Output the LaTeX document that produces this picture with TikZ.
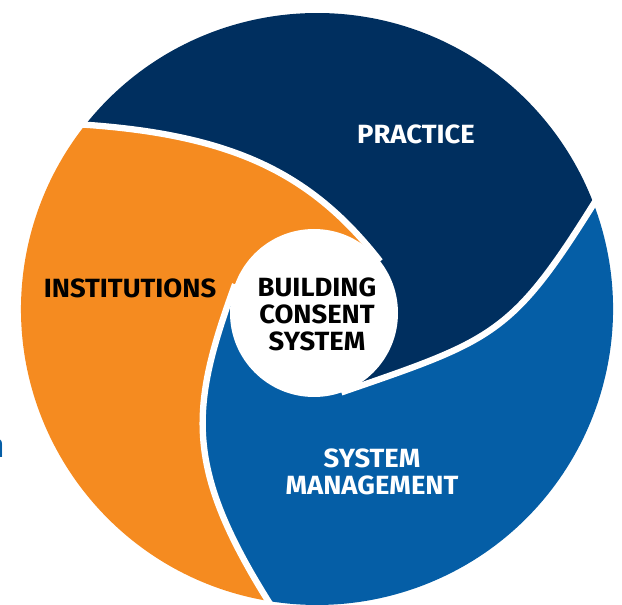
\documentclass[tikz,border=0pt]{standalone}
\usepackage{fontspec}
\setmainfont{Fira Sans}[FakeStretch=1.04]
\usetikzlibrary{calc}
\definecolor{navy}{HTML}{002F5F}
\definecolor{mbieblue}{HTML}{055EA6}
\definecolor{amber}{HTML}{F58B20}

\begin{document}
\begin{tikzpicture}
    [ x=0.02cm, y=0.02cm
    , every node/.style={font=\bfseries\fontsize{15}{15.3}\selectfont, align=center}
    , gap/.style={draw=white, line width=3.6pt}
    , light/.style={text=white}
    ]
    \useasboundingbox (0,0) rectangle (622,605);
    \coordinate (hub)  at (317,296);
    \coordinate (core) at (314,292);
    % ends of the three dividers, on the rim and on the core
    \coordinate (d1o) at ($(hub)+(141.5:296)$);
    \coordinate (d2o) at ($(hub)+(260.5:296)$);
    \coordinate (d3o) at ($(hub)+(20.8:296)$);
    \coordinate (d1i) at ($(core)+(38:84)$);
    \coordinate (d2i) at ($(core)+(160:84)$);
    \coordinate (d3i) at ($(core)+(-71:84)$);

    \fill [navy] (d1o) arc [start angle=141.5, end angle=20.8, radius=296]
      .. controls +(238:155) and +(19:160) .. (d3i) -- (d1i)
      .. controls +(128:110) and +(-4:150) .. (d1o) -- cycle;
    \fill [amber] (d2o) arc [start angle=260.5, end angle=141.5, radius=296]
      .. controls +(-4:150) and +(128:110) .. (d1i) -- (d2i)
      .. controls +(250:130) and +(122:160) .. (d2o) -- cycle;
    \fill [mbieblue] (d3o) arc [start angle=20.8, end angle=-99.5, radius=296]
      .. controls +(122:160) and +(250:130) .. (d2i) -- (d3i)
      .. controls +(19:160) and +(238:155) .. (d3o) -- cycle;

    % white swirls between the segments
    \draw [gap] ($(d1o)+(176:12)$) -- (d1o) .. controls +(-4:150) and +(128:110) .. (d1i);
    \draw [gap] ($(d2o)+(302:12)$) -- (d2o) .. controls +(122:160) and +(250:130) .. (d2i);
    \draw [gap] ($(d3o)+(58:12)$) -- (d3o) .. controls +(238:155) and +(19:160) .. (d3i);
    \fill [white] (core) circle [radius=84];

    \node [light] (practice) at (416,471) {PRACTICE};
    \node (institutions) at (130,317) {INSTITUTIONS};
    \node (consent) at (317,291) {BUILDING\\CONSENT\\SYSTEM};
    \node [light] (management) at (372,133) {SYSTEM\\MANAGEMENT};
    \node [text=mbieblue, anchor=base east, inner sep=0pt, font=\bfseries\fontsize{19}{20}\selectfont]
      (cut) at (5,147) {n};
\end{tikzpicture}
\end{document}
